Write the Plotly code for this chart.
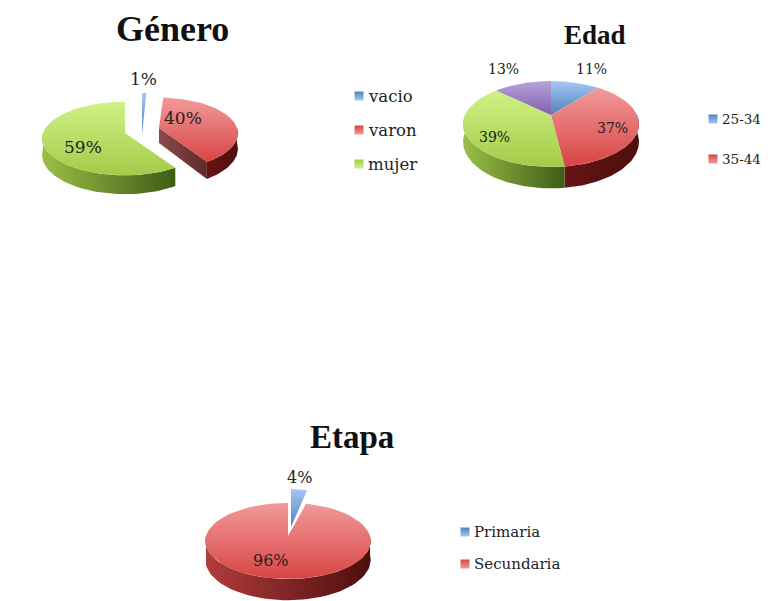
import math
import plotly.graph_objects as go

# ---- data ----
genero_labels = ["vacio", "varon", "mujer"]
genero_values = [1, 40, 59]
edad_labels = ["25-34", "35-44", "45-54", "55+"]
edad_values = [11, 37, 39, 13]
edad_legend_labels = ["25-34", "35-44"]
etapa_labels = ["Primaria", "Secundaria"]
etapa_values = [4, 96]

# ---- styles: top light, top dark, wall light, wall dark, cut light, cut dark ----
BLUE = ("#A6C8F5", "#4F81BD", "#3A6596", "#27476E", "#3A6596", "#27476E")
RED = ("#F29A9A", "#D84444", "#B23C3C", "#4E0E0E", "#8A4A4A", "#5E2A2A")
GREEN = ("#D0F186", "#A3CB48", "#9ABF45", "#3F5C17", "#9ABF45", "#3F5C17")
PURPLE = ("#B9A2DA", "#7D5FAE", "#6A4E96", "#46316B", "#6A4E96", "#46316B")
SERIF = "DejaVu Serif"
TITLE_FONT = "Liberation Serif"

fig = go.Figure()


def rim(g, a):
    """Point on the rim of a perspective-tilted pie, and its depth scale."""
    ax, ay, rx, ry, k = g[:5]
    t = math.radians(a)
    s = 1 / (1 + k * math.cos(t))
    return ax + rx * math.sin(t) * s, ay - ry * math.cos(t) * s, s


def arc(g, a0, a1, n=60):
    return [rim(g, a0 + (a1 - a0) * i / n) for i in range(n + 1)]


def poly(pts, grad_type, c0, c1):
    xs = [p[0] for p in pts] + [pts[0][0]]
    ys = [p[1] for p in pts] + [pts[0][1]]
    fig.add_trace(go.Scatter(
        x=xs, y=ys, mode="lines", fill="toself", line=dict(width=0, color=c1),
        fillgradient=dict(type=grad_type, colorscale=[[0, c0], [1, c1]]),
        hoverinfo="skip", showlegend=False))


def wedge_wall(g, a0, a1, colors):
    """Visible outer wall and exposed cut face of one slice."""
    ax, ay, rx, ry, k, d, cut = g
    if d == 0:
        return
    lo, hi = max(a0, 90), min(a1, 270)
    if lo < hi:
        top = arc(g, lo, hi)
        bot = [(x, y + d * s) for x, y, s in top][::-1]
        outline = [(x, y) for x, y, s in top] + bot
        if hi > 200:
            poly(outline, "horizontal", colors[2], colors[3])
        else:
            poly(outline, "horizontal", "#661414", colors[3])
    if cut:
        cx, cy, s = rim(g, a1)
        poly([(ax, ay), (cx, cy), (cx, cy + d * s), (ax, ay + d)],
             "horizontal", colors[4], colors[5])


def wedge_top(g, a0, a1, colors):
    ax, ay = g[:2]
    poly([(ax, ay)] + [(x, y) for x, y, s in arc(g, a0, a1)],
         "vertical", colors[1], colors[0])


def pie(values, geoms, colors):
    total = sum(values)
    a = 0
    spans = []
    for v in values:
        spans.append((a, a + 360 * v / total))
        a += 360 * v / total
    for g, (a0, a1), c in zip(geoms, spans, colors):
        wedge_wall(g, a0, a1, c)
    for g, (a0, a1), c in zip(geoms, spans, colors):
        wedge_top(g, a0, a1, c)


def pct(values):
    t = sum(values)
    return [f"{round(100 * v / t)}%" for v in values]


def label(x, y, text, size, family=SERIF, color="#222222", bold=False, anchor="center"):
    fig.add_annotation(x=x, y=y, text=f"<b>{text}</b>" if bold else text, showarrow=False,
                       xanchor=anchor, yanchor="middle", xref="x", yref="y",
                       font=dict(size=size, family=family, color=color))


def legend(x, ys, names, colors, size):
    for y, n, c in zip(ys, names, colors):
        fig.add_trace(go.Scatter(
            x=[x], y=[y], mode="markers", showlegend=False, hoverinfo="skip",
            marker=dict(symbol="square", size=9, color=c[1], line=dict(width=0),
                        gradient=dict(type="vertical", color=c[0]))))
        label(x + 7, y, n, size, anchor="left")


# Género  (apex x, apex y, rx, ry, perspective, depth, show cut face)
g_geo = [
    (142, 134, 70, 41, 0, 0, False),
    (159, 128, 78, 35, 0.15, 15, True),
    (125, 133, 82, 36, 0.15, 16, False),
]
pie(genero_values, g_geo, [BLUE, RED, GREEN])
label(172, 29, "Género", 36, TITLE_FONT, "#111111", True)
for (x, y), t in zip([(143, 79), (183, 118), (83, 147)], pct(genero_values)):
    label(x, y, t, 17)
legend(359, [96, 130, 164], genero_labels, [BLUE, RED, GREEN], 16.5)

# Edad
e_geo = [(551, 115, 86, 41, 0.21, 17, False)] * 4
pie(edad_values, e_geo, [BLUE, RED, GREEN, PURPLE])
label(595, 35, "Edad", 27, TITLE_FONT, "#111111", True)
for (x, y), t in zip([(591, 69), (612, 128), (494, 137), (503, 69)], pct(edad_values)):
    label(x, y, t, 14)
legend(713, [119, 159], edad_legend_labels, [BLUE, RED], 13.5)

# Etapa
t_geo = [
    (291, 527, 65, 38, 0, 0, False),
    (288, 536, 82, 37.4, 0.13, 18.5, False),
]
pie(etapa_values, t_geo, [BLUE, RED])
label(352, 437, "Etapa", 33, TITLE_FONT, "#111111", True)
for (x, y), t in zip([(299, 477), (271, 560)], pct(etapa_values)):
    label(x, y, t, 16)
legend(465, [532, 564], etapa_labels, [BLUE, RED], 15)

fig.update_layout(
    width=774, height=601, margin=dict(l=0, r=0, t=0, b=0),
    paper_bgcolor="white", plot_bgcolor="white", showlegend=False,
    xaxis=dict(range=[0, 774], visible=False, fixedrange=True),
    yaxis=dict(range=[601, 0], visible=False, fixedrange=True),
)
fig.write_html("out.html", config=dict(displayModeBar=False),
               post_script="document.body.style.margin='0';document.documentElement.style.overflow='hidden';")
